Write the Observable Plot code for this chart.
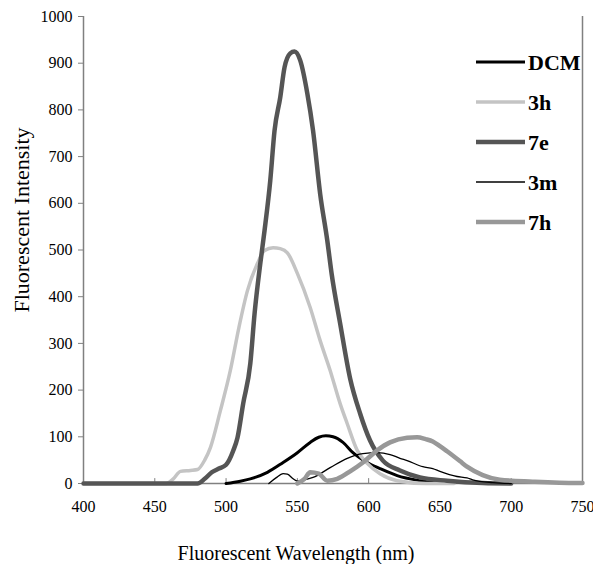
<!DOCTYPE html>
<html><head><meta charset="utf-8">
<script src="https://cdn.jsdelivr.net/npm/d3@7"></script>
<script src="https://cdn.jsdelivr.net/npm/@observablehq/plot@0.6"></script>
<style>body{margin:0;background:#fff}</style>
</head><body><div id="chart"></div>
<script>
// Series names, colours and widths
const seriesNames = ["DCM", "3h", "7e", "3m", "7h"];
const seriesColors = ["#000000", "#c4c4c4", "#555555", "#000000", "#989898"];
const seriesWidths = [3, 3.5, 4.5, 1.3, 4.5];

// [wavelength nm, intensity]
const dcm = [[500,0],[510,5],[517,10],[529,24],[540,45],[550,66],[559,88],[565,99],[570,102],[575,100],[582,88],[589,66],[599,45],[608,32],[620,17],[636,6],[650,0]];
const s3h = [[400,0],[458,0],[463,10],[468,26],[475,28],[480,30],[485,50],[489,77],[496,156],[503,242],[509,334],[515,413],[522,471],[527,499],[533,505],[538,503],[543,494],[550,450],[559,377],[566,306],[573,242],[580,171],[585,128],[592,71],[599,43],[608,21],[620,6],[640,0],[660,0]];
const s7e = [[400,0],[480,0],[485,10],[490,24],[495,32],[500,40],[505,70],[508,98],[512,171],[517,257],[520,364],[524,471],[527,542],[531,649],[534,756],[538,827],[541,891],[545,921],[548,925],[552,906],[557,835],[561,756],[566,620],[571,520],[574,450],[580,343],[587,225],[594,150],[601,92],[610,49],[622,28],[636,13],[655,6],[680,1],[700,0]];
const s3m = [[530,0],[535,12],[540,21],[543,20],[547,10],[550,5],[555,8],[561,13],[573,34],[585,54],[596,64],[606,66],[615,62],[622,54],[627,49],[638,36],[645,32],[650,26],[662,15],[669,12],[673,8],[687,2],[700,0]];
const s7h = [[550,0],[555,10],[559,24],[565,21],[571,6],[578,10],[587,26],[596,45],[606,71],[615,88],[627,98],[634,99],[640,95],[645,90],[650,80],[655,69],[664,48],[669,36],[680,18],[692,8],[715,4],[746,1],[750,1]];
const seriesData = [dcm, s3h, s7e, s3m, s7h];

const xTicks = [400, 450, 500, 550, 600, 650, 700, 750];
const yTicks = [0, 100, 200, 300, 400, 500, 600, 700, 800, 900, 1000];

const serif = "'Liberation Serif', 'Times New Roman', serif";
const axisColor = "#808080";
const tickShape = {draw(context, l) { context.moveTo(0, 0); context.lineTo(0, -l); }};

const lineMarks = seriesData.map((arr, i) =>
  Plot.line(arr, {x: d => d[0], y: d => d[1], stroke: seriesColors[i], strokeWidth: seriesWidths[i], curve: "monotone-x", strokeLinejoin: "round", strokeLinecap: "round"})
);

const svg = Plot.plot({
  width: 593, height: 564,
  marginLeft: 83, marginRight: 11, marginTop: 16, marginBottom: 81,
  style: {fontFamily: serif, fontSize: "16px", background: "#fff", color: "#000"},
  x: {domain: [400, 750]},
  y: {domain: [0, 1000]},
  marks: [
    Plot.axisY({ticks: yTicks, tickFormat: d => String(d), tickSize: 5, tickPadding: 6, label: null, stroke: axisColor, fill: "#000", fontSize: 16, fontFamily: serif}),
    Plot.axisX({ticks: xTicks, tickFormat: d => String(d), tickSize: 0, tickPadding: 17, label: null, fill: "#000", fontSize: 16, fontFamily: serif}),
    Plot.vector(xTicks, {x: d => d, y: 0, length: 5, anchor: "start", shape: tickShape, stroke: axisColor, strokeWidth: 1}),
    Plot.ruleX([400], {stroke: axisColor, strokeWidth: 1.5}),
    Plot.ruleX([750], {stroke: axisColor, strokeWidth: 1.5}),
    Plot.ruleY([0], {stroke: axisColor, strokeWidth: 1.5}),
    ...lineMarks
  ]
});

const g = d3.select(svg).append("g").attr("font-family", serif).attr("text-anchor", "start");
// axis titles
g.append("text").attr("x", 296).attr("y", 553).attr("text-anchor", "middle").attr("dominant-baseline", "central")
  .attr("font-size", 20).attr("fill", "#000").text("Fluorescent Wavelength (nm)");
g.append("text").attr("transform", "translate(21,220) rotate(-90)").attr("text-anchor", "middle").attr("dominant-baseline", "central")
  .attr("font-size", 22).attr("fill", "#000").text("Fluorescent Intensity");
// legend
seriesNames.forEach((name, i) => {
  const yy = 62 + i * 40;
  g.append("line").attr("x1", 476).attr("x2", 525).attr("y1", yy).attr("y2", yy)
    .attr("stroke", seriesColors[i]).attr("stroke-width", seriesWidths[i]);
  g.append("text").attr("x", 528).attr("y", yy + 8).attr("text-anchor", "start").attr("font-size", 22).attr("font-weight", "bold")
    .attr("fill", "#000").text(name);
});

document.getElementById("chart").appendChild(svg);
</script>
</body></html>
